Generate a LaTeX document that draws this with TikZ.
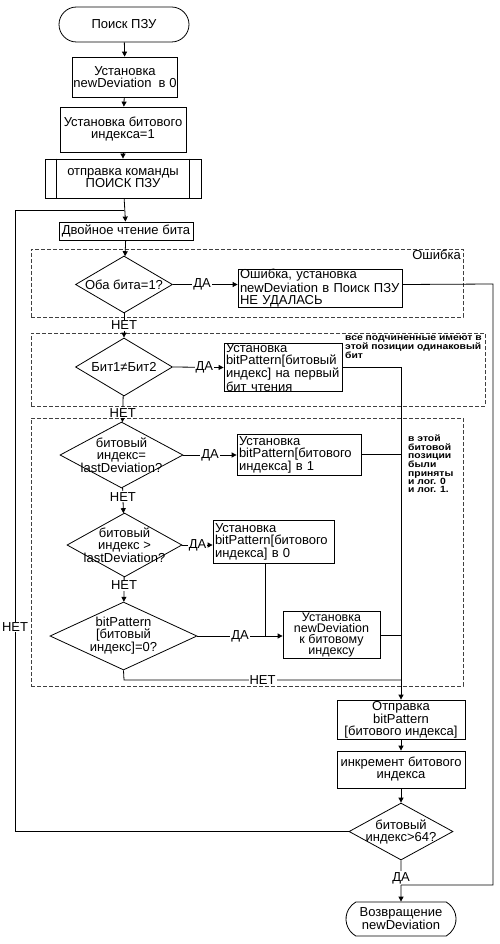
\documentclass[tikz,border=0pt]{standalone}
\usepackage{fontspec}
\setmainfont{Liberation Sans}
\newfontfamily\notefont[FakeStretch=1.15]{Liberation Sans}
\usetikzlibrary{shapes.geometric,shapes.misc,arrows.meta}
\begin{document}
\begin{tikzpicture}[x=1pt,y=-1pt,
  every node/.style={font=\fontsize{13}{12}\selectfont, inner sep=0pt},
  ln/.style={line width=0.8pt},
  arr/.style={ln,-{Triangle[length=5pt,width=5pt]}},
  proc/.style={draw, line width=0.8pt, fill=white, align=center},
  procl/.style={draw, line width=0.8pt, fill=white, align=left, inner xsep=2pt, text width=#1-4pt},
  term/.style={draw, line width=0.8pt, fill=white, align=center, rounded rectangle},
  dia/.style={draw, line width=0.8pt, fill=white, diamond},
  dtext/.style={align=center},
  lab/.style={fill=white, inner sep=1pt},
  region/.style={draw=black!75, line width=0.8pt, dash pattern=on 4pt off 2pt},
  note/.style={font=\notefont\bfseries\fontsize{9}{8.3}\selectfont, align=left, anchor=north west}
]
\useasboundingbox (0,0) rectangle (500,944);

% dashed regions
\node[region, minimum width=432, minimum height=68] (r1) at (247,283) {};
\node[region, minimum width=454, minimum height=73] (r2) at (258,369.5) {};
\node[region, minimum width=432, minimum height=268] (r3) at (247,552) {};
\node[anchor=north east] (errlab) at (461,250) {Ошибка};

% main column
\node[term, minimum width=130, minimum height=35] (start) at (124,24.5) {Поиск ПЗУ};
\node[proc, minimum width=105, minimum height=40] (b1) at (125,77) {Установка\\newDeviation\ \ в 0};
\node[proc, minimum width=126, minimum height=45] (b2) at (123,129.5) {Установка битового\\индекса=1};
\node[proc, minimum width=156, minimum height=39] (b3) at (123,178.5) {отправка команды\\ПОИСК ПЗУ};
\draw[ln] ([xshift=12pt]b3.north west) -- ([xshift=12pt]b3.south west);
\draw[ln] ([xshift=-12pt]b3.north east) -- ([xshift=-12pt]b3.south east);
\node[proc, minimum width=134, minimum height=18] (b4) at (126,231) {Двойное чтение бита};

\node[dia, minimum width=97, minimum height=57] (d1) at (124,284.5) {};
\node[dtext] (d1t) at (d1) {Оба бита=1?};
\node[procl=164pt, minimum height=38] (e1) at (320,288) {Ошибка, установка\\newDeviation в Поиск ПЗУ\\НЕ УДАЛАСЬ};

\node[dia, minimum width=97, minimum height=58] (d2) at (124,367) {};
\node[dtext] (d2t) at (d2) {Бит1≠Бит2};
\node[procl=118pt, minimum height=47] (e2) at (283,367.5) {Установка\\bitPattern[битовый\\индекс] на первый\\бит чтения};
\node[note] (n1) at (345,335) {все подчиненные имеют в\\этой позиции одинаковый\\бит};

\node[dia, minimum width=123, minimum height=66] (d3) at (121.5,455) {};
\node[dtext] (d3t) at (d3) {битовый\\индекс=\\lastDeviation?};
\node[procl=124pt, minimum height=41] (e3) at (299,454.5) {Установка\\bitPattern[битового\\индекса] в 1};
\node[note] (n2) at (408,435) {в этой\\битовой\\позиции\\были\\приняты\\и лог. 0\\и лог. 1.};

\node[dia, minimum width=115, minimum height=64] (d4) at (124.5,545) {};
\node[dtext] (d4t) at (d4) {битовый\\индекс >\\lastDeviation?};
\node[procl=121pt, minimum height=43] (e4) at (273.5,541.5) {Установка\\bitPattern[битового\\индекса] в 0};

\node[dia, minimum width=147, minimum height=68] (d5) at (123.5,636) {};
\node[dtext] (d5t) at (d5) {bitPattern\\{[}битовый\\индекс{]}=0?};
\node[proc, minimum width=97, minimum height=47, font=\fontsize{12.5}{11}\selectfont] (e5) at (331.5,635) {Установка\\newDeviation\\к битовому\\индексу};

\node[proc, minimum width=128, minimum height=39] (f1) at (401,719.5) {Отправка\\bitPattern\\{[}битового индекса{]}};
\node[proc, minimum width=128, minimum height=37] (f2) at (401,769.5) {инкремент битового\\индекса};
\node[dia, minimum width=104, minimum height=57] (d6) at (401,831.5) {};
\node[dtext] (d6t) at (d6) {битовый\\индекс>64?};
\node[term, minimum width=110, minimum height=34, rounded rectangle arc length=120] (end) at (401,919) {Возвращение\\newDeviation};

% coordinates
\coordinate (jn) at (124,210);
\coordinate (loopL) at (15,210);
\coordinate (rt) at (493,284);
\coordinate (jr) at (401,885);
\coordinate (j4) at (265,636);
\coordinate (c5) at (124,680);
\coordinate (c5r) at (401,680);

% connectors
\draw[arr] (start) -- (b1);
\draw[arr] (b1) -- (b2);
\draw[arr] (b2) -- (b3);
\draw[arr] (b3) -- (b4);
\draw[arr] (b4) -- (d1);
\draw[arr] (d1.east) -- node[lab, pos=0.45] (ya1) {ДА} (d1.east -| e1.west);
\draw[arr] (d1) -- node[lab] (no1) {НЕТ} (d2);
\draw[arr] (d2.east) -- node[lab, pos=0.62] (ya2) {ДА} (e2.west);
\draw[arr] (d2) -- node[lab, pos=0.65] (no2) {НЕТ} (d3);
\draw[arr] (d3.east) -- node[lab] (ya3) {ДА} (d3.east -| e3.west);
\draw[arr] (d3) -- node[lab, pos=0.36] (no3) {НЕТ} (d4);
\draw[arr] (d4.east) -- node[lab, inner xsep=0.5pt] (ya4) {ДА} (d4.east -| e4.west);
\draw[arr] (d4) -- node[lab, pos=0.32] (no4) {НЕТ} (d5);
\draw[arr] (d5.east) -- node[lab, pos=0.5] (ya5) {ДА} (d5.east -| e5.west);
\draw[ln] (j4 |- e4.south) -- (j4);
\draw[ln] (d5.south) -- (c5) -- node[lab] (no5) {НЕТ} (c5r);
\draw[arr] (e2.east) -| (f1.north);
\draw[ln] (e3.east) -- (e3.east -| f1.north);
\draw[ln] (e5.east) -- (e5.east -| f1.north);
\draw[arr] (f1) -- (f2);
\draw[arr] (f2) -- (d6);
\draw[arr] (d6) -- node[lab, pos=0.43] (ya6) {ДА} (end);
\draw[ln] (d1.east -| e1.east) -- (rt) |- (jr);
\draw[ln] (d6.west) -| (loopL) -- (jn);
\node[lab] (no6) at (15,627) {НЕТ};
\end{tikzpicture}
\end{document}
